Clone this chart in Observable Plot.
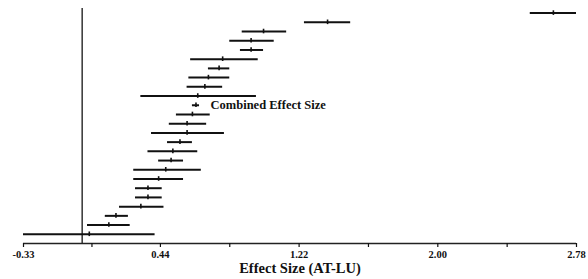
<!DOCTYPE html>
<html>
<head>
<meta charset="utf-8">
<script src="https://cdn.jsdelivr.net/npm/d3@7"></script>
<script src="https://cdn.jsdelivr.net/npm/@observablehq/plot@0.6"></script>
<style>
  html, body { margin: 0; padding: 0; background: #fff; }
  #chart svg { display: block; }
</style>
</head>
<body>
<div id="chart"></div>
<script>
// Row labels (top to bottom); only the combined row is labelled in the chart
const labels = ["S1","S2","S3","S4","S5","S6","S7","S8","S9","S10","Combined Effect Size","S11","S12","S13","S14","S15","S16","S17","S18","S19","S20","S21","S22","S23","S24"];
const estimate = [2.65, 1.38, 1.02, 0.95, 0.95, 0.79, 0.77, 0.71, 0.69, 0.65, 0.64, 0.62, 0.59, 0.59, 0.55, 0.51, 0.50, 0.47, 0.43, 0.37, 0.37, 0.33, 0.19, 0.15, 0.04];
const lower    = [2.52, 1.25, 0.90, 0.83, 0.89, 0.61, 0.71, 0.60, 0.59, 0.33, 0.62, 0.53, 0.49, 0.39, 0.48, 0.37, 0.43, 0.29, 0.29, 0.30, 0.30, 0.21, 0.13, 0.03, -0.33];
const upper    = [2.78, 1.51, 1.15, 1.08, 1.02, 0.99, 0.83, 0.83, 0.79, 0.98, 0.66, 0.72, 0.70, 0.80, 0.62, 0.65, 0.57, 0.67, 0.57, 0.45, 0.45, 0.46, 0.26, 0.27, 0.41];
const majorTicks = [-0.33, 0.44, 1.22, 2.00, 2.78];
const allTicks = [-0.33, 0.055, 0.44, 0.83, 1.22, 1.61, 2.00, 2.39, 2.78];
const combinedLabel = "Combined Effect Size";
const axisTitle = "Effect Size (AT-LU)";

const data = labels.map((name, i) => ({
  name, row: i + 1, est: estimate[i], lo: lower[i], hi: upper[i]
}));
const combined = data.filter(d => d.name === combinedLabel);

const font = "'Liberation Serif', 'Times New Roman', serif";

const chart = Plot.plot({
  width: 588,
  height: 279,
  marginLeft: 23,
  marginRight: 12,
  marginTop: 8,
  marginBottom: 36,
  style: { fontFamily: font, background: "#fff", color: "#111" },
  x: { domain: [-0.33, 2.78] },
  y: { domain: [26, 0.5], axis: null },
  marks: [
    Plot.ruleX([0], { stroke: "#333", strokeWidth: 1.5 }),
    Plot.ruleY([26], { stroke: "#222", strokeWidth: 1.5 }),
    Plot.axisX({
      ticks: allTicks,
      tickSize: 4,
      tickPadding: 3,
      strokeWidth: 1.2,
      tickFormat: d => majorTicks.includes(d) ? d.toFixed(2) : "",
      fontSize: 10.5,
      fontWeight: "bold",
      label: null
    }),
    Plot.ruleY(data, { y: "row", x1: "lo", x2: "hi", stroke: "#111", strokeWidth: 2 }),
    Plot.ruleX(data, { x: "est", y1: d => d.row - 0.25, y2: d => d.row + 0.25, stroke: "#111", strokeWidth: 1.6 }),
    Plot.text(combined, {
      x: "hi", y: "row", text: "name", dx: 11, textAnchor: "start",
      fontSize: 12.5, fontWeight: "bold", fill: "#111"
    }),
    Plot.text([axisTitle], {
      frameAnchor: "bottom", dy: 29, text: d => d,
      fontSize: 14.5, fontWeight: "bold", fill: "#111"
    })
  ]
});
document.getElementById("chart").append(chart);
</script>
</body>
</html>
